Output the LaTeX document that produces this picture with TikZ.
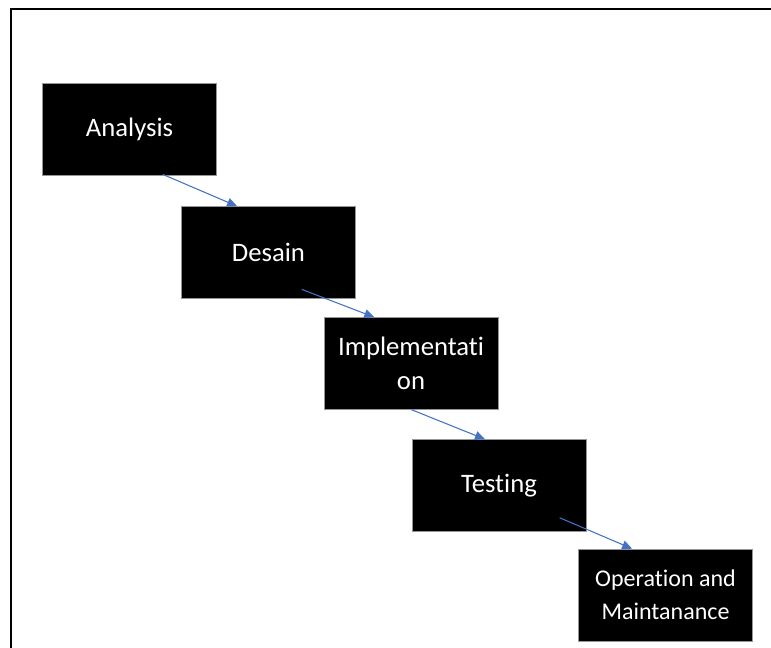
\documentclass[tikz,border=0pt]{standalone}
\usepackage{fontspec}
\setmainfont{Carlito}[Ligatures=NoCommon]
\usepackage{tikz}
\usetikzlibrary{arrows.meta,positioning}
\definecolor{wfblue}{RGB}{68,114,196}
\definecolor{wfedge}{RGB}{150,150,150}

\begin{document}
\begin{tikzpicture}[
  x=0.75pt, y=-0.75pt,
  phase/.style={draw=wfedge,line width=0.4pt,fill=black,text=white,
                minimum width=130.5pt,minimum height=69pt,inner sep=0pt,
                align=center,font=\fontsize{20}{25}\selectfont},
  arr/.style={-{Triangle[length=7.5pt,width=6.5pt]},line width=0.8pt,wfblue},
  frame/.style={line width=1.5pt,black}
]
\useasboundingbox (0,0) rectangle (771,648);

% frame (only top and left edges fall inside the page)
\draw[frame] (11,648) -- (11,9) -- (771,9);

% waterfall phases
\node[phase] (analysis) at (129.5,129.5) {Analysis};
\node[phase] (desain)   at (268.5,252.5) {Desain};
\node[phase] (impl)     at (411,363.5)   {Implementati\\on};
\node[phase] (testing)  at (499,485.5)   {Testing};
\node[phase,font=\fontsize{18}{25}\selectfont] (opmaint) at (665.5,595)
  {Operation and\\Maintanance};

% step arrows
\draw[arr] ([xshift=25pt,yshift=1pt]analysis.south) -- ([xshift=-23.5pt]desain.north);
\draw[arr] ([xshift=25pt,yshift=7pt]desain.south) -- ([xshift=-27.5pt]impl.north);
\draw[arr] ([xshift=0.5pt]impl.south) -- ([xshift=-10.5pt]testing.north);
\draw[arr] ([xshift=45.5pt,yshift=10.5pt]testing.south) -- ([xshift=-25pt]opmaint.north);

\end{tikzpicture}
\end{document}
